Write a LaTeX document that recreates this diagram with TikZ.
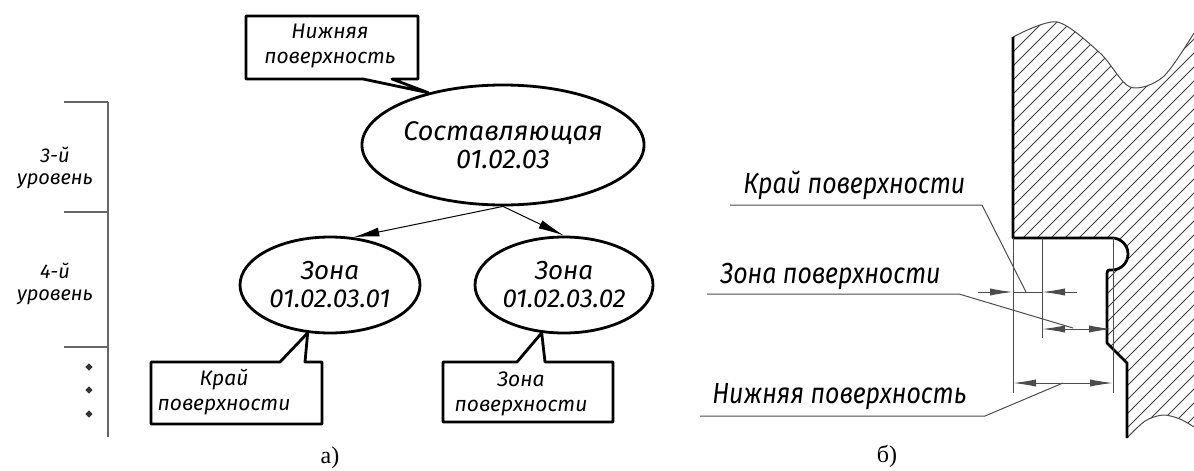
\documentclass[tikz,border=0pt]{standalone}
\usepackage{fontspec}
\setmainfont{Liberation Serif}
\newfontfamily\gostfont{Fira Sans Italic}
\newfontfamily\gostnarrow{Fira Sans Italic}[FakeStretch=0.86]
\usetikzlibrary{shapes.geometric,arrows.meta}

\begin{document}
\begin{tikzpicture}[x=0.5pt,y=-0.5pt,
		bold/.style={line width=1.4pt,line join=round},
		fine/.style={line width=0.5pt,black!70},
		hatchline/.style={line width=0.45pt,black!75},
		oval/.style={ellipse,draw,bold,inner sep=0pt,align=center},
		boxtext/.style={font=\gostfont\fontsize{10.5}{12.5}\selectfont,align=center,inner sep=0pt},
		lvltext/.style={font=\gostfont\fontsize{10}{11}\selectfont,align=center,inner sep=0pt},
		lbl/.style={font=\gostnarrow\fontsize{14.5}{16}\selectfont,anchor=base west,inner sep=0pt},
		sublabel/.style={font=\fontsize{12}{14}\selectfont,inner sep=0pt},
		dotmark/.style={diamond,fill=black!80,inner sep=0pt,minimum size=3.8pt},
		treearrow/.style={line width=0.5pt,-{Latex[length=13pt,width=4.5pt]}},
		dimarrow/.style={fine,-{Latex[length=11.5pt,width=3.6pt]}}]
	\useasboundingbox (0,0) rectangle (1194,471);

	% a) levels
	\draw[line width=0.6pt,black!60] (108,102) -- (108,437);
	\foreach \y in {102,212,347}
		\draw[line width=0.6pt,black!60] (64,\y) -- (108,\y);
	\node[lvltext] (L3) at (55,168) {3-й\\уровень};
	\node[lvltext] (L4) at (55,284) {4-й\\уровень};
	\foreach \y/\n in {367/1,390/2,414/3}
		\node[dotmark] (d\n) at (89,\y) {};

	% a) tree
	\node[oval,minimum width=102pt,minimum height=60pt,font=\gostfont\fontsize{13.5}{14}\selectfont] (C) at (503,145) {Составляющая\\01.02.03};
	\node[oval,minimum width=90pt,minimum height=48pt,font=\gostfont\fontsize{13}{14}\selectfont] (Z1) at (330,285) {Зона\\01.02.03.01};
	\node[oval,minimum width=89pt,minimum height=48pt,font=\gostfont\fontsize{13}{14}\selectfont] (Z2) at (564,285) {Зона\\01.02.03.02};
	\draw[treearrow] (C.south) -- (Z1.64);
	\draw[treearrow] (C.south) -- (Z2.north);

	% a) callouts
	\draw[bold] (246,16) -- (418,16) -- (418,79) -- (392,79) -- (C.145) -- (363,79) -- (246,79) -- cycle;
	\draw[bold] (151,362) -- (280,362) -- (Z1.245) -- (305,362) -- (322,362) -- (322,424) -- (151,424) -- cycle;
	\draw[bold] (443,362) -- (517,362) -- (Z2.245) -- (545,362) -- (613,362) -- (613,422) -- (443,422) -- cycle;
	\node[boxtext] (tN) at (330,46) {Нижняя\\поверхность};
	\node[boxtext] (tK) at (224,392) {Край\\поверхности};
	\node[boxtext] (tZ) at (521,394) {Зона\\поверхности};
	\node[sublabel] (a) at (330,458) {а)};

	% b) section
	\begin{scope}
		\clip (1013,37) -- (1013,238) -- (1112,238) arc[start angle=-90,end angle=90,radius=16]
			.. controls (1107,270) .. (1107,277) -- (1107,343) -- (1127,363) -- (1127,438)
			-- plot[smooth] coordinates {(1127,438) (1145,421) (1163,415) (1180,419) (1194,427)}
			-- (1194,33)
			-- plot[smooth] coordinates {(1194,33) (1163,77) (1130,87) (1100,53) (1057,22) (1013,37)} -- cycle;
		\foreach \c in {1023,1037,...,1640}
			\draw[hatchline] (990,\c-990) -- (1200,\c-1200);
	\end{scope}
	\draw[fine] plot[smooth] coordinates {(1013,37) (1057,22) (1100,53) (1130,87) (1163,77) (1194,33)};
	\draw[fine] plot[smooth] coordinates {(1127,438) (1145,421) (1163,415) (1180,419) (1194,427)};
	\draw[bold] (1013,37) -- (1013,238) -- (1112,238) arc[start angle=-90,end angle=90,radius=16]
		.. controls (1107,270) .. (1107,277) -- (1107,343) -- (1127,363) -- (1127,438);

	% b) dimensions
	\draw[fine] (1013,238) -- (1013,393);
	\draw[fine] (1042,238) -- (1042,338);
	\draw[fine] (1113,238) -- (1113,393);
	\draw[dimarrow] (978,292) -- (1013,292);
	\draw[dimarrow] (1077,292) -- (1042,292);
	\draw[fine] (1013,292) -- (1042,292);
	\draw[dimarrow] (1077,329) -- (1042,329);
	\draw[dimarrow] (1077,329) -- (1112,329);
	\draw[dimarrow] (1063,383) -- (1013,383);
	\draw[dimarrow] (1063,383) -- (1113,383);

	% b) leaders
	\node[lbl] (kr) at (743,193) {Край поверхности};
	\node[lbl] (zn) at (720,283) {Зона поверхности};
	\node[lbl] (nz) at (712,403) {Нижняя поверхность};
	\coordinate (kr1) at (730,205);
	\coordinate (kr2) at (982,205);
	\coordinate (kr3) at (1026,292);
	\coordinate (zn1) at (707,294);
	\coordinate (zn2) at (959,294);
	\coordinate (zn3) at (1073,328);
	\coordinate (nz1) at (700,416);
	\coordinate (nz2) at (985,416);
	\coordinate (nz3) at (1063,383);
	\draw[fine] (kr1) -- (kr2) -- (kr3);
	\draw[fine] (zn1) -- (zn2) -- (zn3);
	\draw[fine] (nz1) -- (nz2) -- (nz3);
	\node[sublabel] (b) at (887,456) {б)};
\end{tikzpicture}
\end{document}
